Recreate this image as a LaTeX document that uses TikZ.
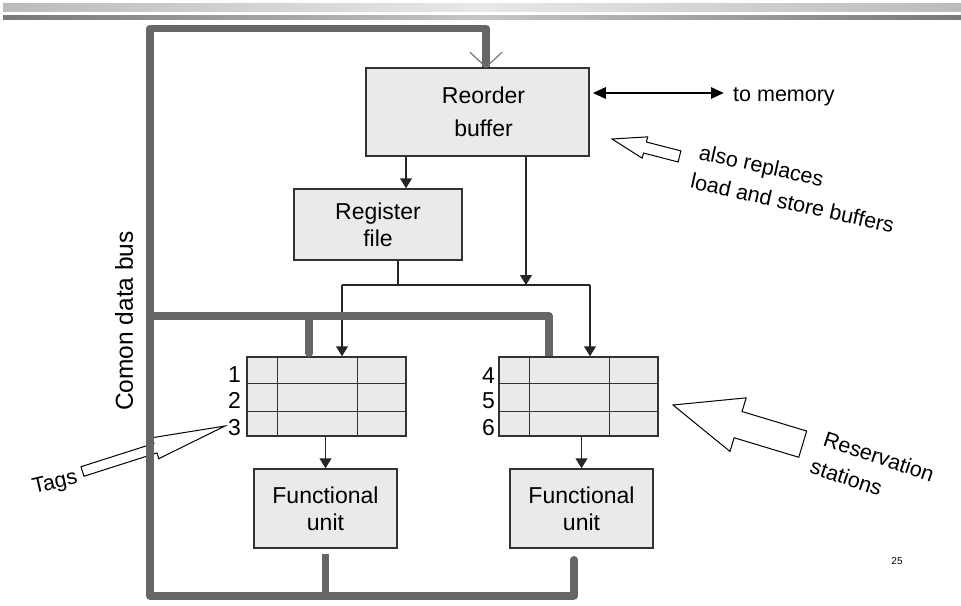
\documentclass[tikz,border=0pt]{standalone}
\usepackage{fontspec}
\setmainfont{Liberation Sans}
\usetikzlibrary{arrows.meta,calc}
\definecolor{busgray}{HTML}{666666}
\definecolor{boxfill}{HTML}{EAEAEA}
\definecolor{boxline}{HTML}{333333}
\definecolor{hdrA}{HTML}{BBBBBB}
\definecolor{hdrB}{HTML}{E8E8E8}
\definecolor{hdrC}{HTML}{787878}
\definecolor{hdrD}{HTML}{C6C6C6}
\newcommand\hollowarr[6]{%
  \draw[hollow, shift={#1}, rotate=#2] (0,0) -- (#4,-#5) -- (#4,-#6) -- (#3,-#6) -- (#3,#6) -- (#4,#6) -- (#4,#5) -- cycle;}
\begin{document}
\begin{tikzpicture}[x=1pt,y=-1pt,
  box/.style={draw=boxline, fill=boxfill, line width=1.5pt, inner sep=0pt, align=center,
    font=\fontsize{23}{27}\selectfont},
  bus/.style={draw=busgray, line width=7.5pt, line join=round},
  arr/.style={draw=black!85, line width=1.2pt, -{Triangle[width=12pt,length=10pt]}},
  thinl/.style={draw=black!85, line width=1.2pt},
  grid/.style={draw=boxline, line width=1.3pt},
  num/.style={inner sep=0pt, anchor=base east, font=\fontsize{23}{27}\selectfont},
  note/.style={inner sep=0pt, align=left, font=\fontsize{21.5}{30}\selectfont},
  hollow/.style={draw=black, fill=white, line width=1pt, line join=miter},
  memarr/.style={draw=black, line width=2.7pt, {Triangle[width=11pt,length=13pt]}-{Triangle[width=11pt,length=13pt]}}
]
\useasboundingbox (0,0) rectangle (961,605);
% header bars
\shade[left color=hdrA, right color=hdrA, middle color=hdrB] (3,3) rectangle (961,11);
\shade[left color=hdrC, right color=hdrC, middle color=hdrD] (3,15) rectangle (961,19);

% boxes
\node[box, minimum width=223pt, minimum height=88pt, font=\fontsize{23}{33}\selectfont] (rob) at (477.5,112) {\hspace*{12pt}Reorder\\\hspace*{12pt}buffer};
\node[box, minimum width=168pt, minimum height=71pt] (rf) at (378,224.5) {Register\\file};
\node[box, minimum width=159pt, minimum height=79pt] (rs1) at (326.5,396.5) {};
\node[box, minimum width=159pt, minimum height=79pt] (rs2) at (578.5,396.5) {};
\node[box, minimum width=143pt, minimum height=79pt] (fu1) at (325.5,508.5) {Functional\\unit};
\node[box, minimum width=143pt, minimum height=79pt] (fu2) at (581.5,508.5) {Functional\\unit};

% reservation station grids
\foreach \r in {rs1,rs2}{
  \draw[grid] ($(\r.north west)+(31,0)$) -- ($(\r.south west)+(31,0)$);
  \draw[grid] ($(\r.north west)+(111,0)$) -- ($(\r.south west)+(111,0)$);
  \draw[grid] ($(\r.north west)+(0,27)$) -- ($(\r.north east)+(0,27)$);
  \draw[grid] ($(\r.north west)+(0,55)$) -- ($(\r.north east)+(0,55)$);
}
\node[num] (n1) at (241,382) {1};
\node[num] (n2) at (241,408) {2};
\node[num] (n3) at (241,435) {3};
\node[num] (n4) at (495,383) {4};
\node[num] (n5) at (495,408) {5};
\node[num] (n6) at (495,435) {6};

% thin data paths
\coordinate (c1) at (406,0);
\coordinate (j2) at (526,285);
\coordinate (hl) at (342,285);
\coordinate (hr) at (590,285);
\coordinate (rfo) at (398,285);
\draw[arr] (rob.south -| c1) -- (rf.north -| c1);
\draw[arr] (rob.south -| j2) -- (j2);
\draw[thinl] (rf.south -| rfo) -- (rfo);
\draw[thinl] (hl) -- (hr);
\draw[arr] (hl) -- (hl |- rs1.north);
\draw[arr] (hr) -- (hr |- rs2.north);
\draw[arr] (rs1.south -| fu1.north) -- (fu1.north);
\draw[arr] (rs2.south -| fu2.north) -- (fu2.north);

% memory arrow
\coordinate (mem) at (724,93);
\draw[memarr, shorten <=3pt] (rob.east |- mem) -- (mem);
\node[inner sep=0pt, anchor=base west, font=\fontsize{21.5}{26}\selectfont] (tomem) at (733,101.5) {to memory};

% Tags hollow arrow (under the bus)
\hollowarr{(225,426)}{197.7}{149.6}{73}{11}{5}
\node[inner sep=0pt, rotate=13, font=\fontsize{21.5}{26}\selectfont] (tags) at (55,483.5) {Tags};

% common data bus
\coordinate (b1) at (486,28.5);
\coordinate (b2) at (150,28.5);
\coordinate (b3) at (150,596);
\coordinate (b4) at (574,596);
\draw[bus] (rob.north -| b1) -- (b1) -- (b2) -- (b3) -- (b4);
\draw[bus, line cap=round, shorten <=11pt] (fu2.south -| b4) -- (b4);
\draw[bus, shorten <=5pt] (fu1.south) -- (fu1.south |- b3);
\coordinate (m1) at (150,316);
\coordinate (m2) at (549,316);
\coordinate (m3) at (309,316);
\draw[bus] (m1) -- (m2) -- (m2 |- rs2.north);
\draw[bus, line cap=round] (m3) -- ($(m3 |- rs1.north)+(0,-3)$);
\draw[draw=busgray!90, line width=1.2pt] ($(rob.north -| b1)+(-16,-15)$) -- (rob.north -| b1) -- ++(16,-15);
\node[inner sep=0pt, rotate=90, font=\fontsize{24.5}{28}\selectfont] (cdb) at (124,321) {Comon data bus};

% annotation arrows
\hollowarr{(612,139)}{-14.5}{69.7}{34}{11}{5.7}
\node[note, rotate=-12.5] (also) at (795.8,188.3) {\hspace*{2pt}also replaces\\load and store buffers};
\hollowarr{(673,405)}{-16.8}{135.5}{68}{28}{13.7}
\node[note, rotate=-18.5] (resv) at (872.4,470.2) {\hspace*{4pt}Reservation\\stations};

\node[inner sep=0pt, font=\fontsize{10}{12}\selectfont] (pg) at (897,561) {25};
\end{tikzpicture}
\end{document}
